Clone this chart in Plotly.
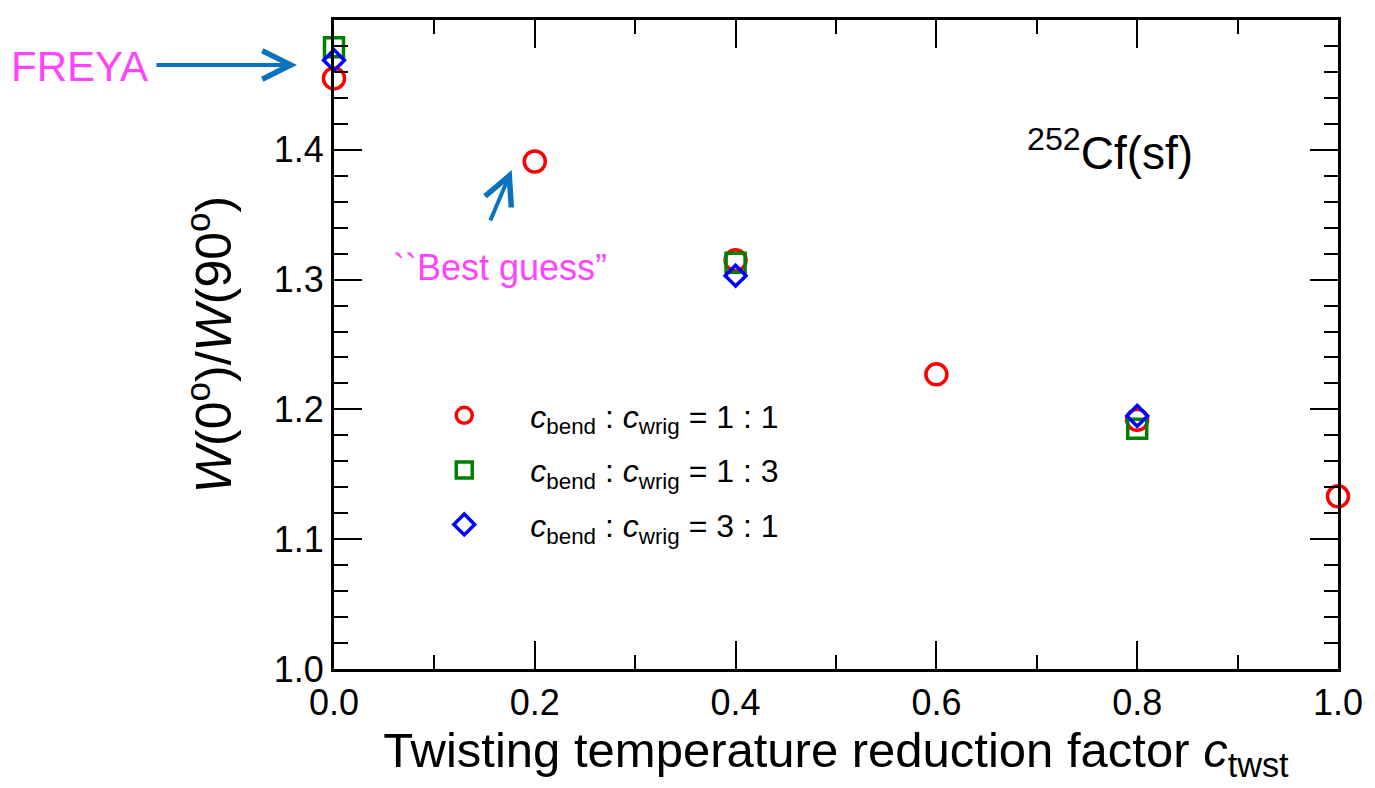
import plotly.graph_objects as go

# Angular anisotropy W(0°)/W(90°) versus twisting temperature reduction factor
x_11 = [0.0, 0.2, 0.4, 0.6, 0.8, 1.0]
y_11 = [1.455, 1.391, 1.315, 1.227, 1.192, 1.133]

x_13 = [0.0, 0.4, 0.8]
y_13 = [1.479, 1.313, 1.185]

x_31 = [0.0, 0.4, 0.8]
y_31 = [1.469, 1.303, 1.195]

names = [
    "<i>c</i><sub>bend</sub> : <i>c</i><sub>wrig</sub> = 1 : 1",
    "<i>c</i><sub>bend</sub> : <i>c</i><sub>wrig</sub> = 1 : 3",
    "<i>c</i><sub>bend</sub> : <i>c</i><sub>wrig</sub> = 3 : 1",
]

FONT = "Liberation Sans, Arial, Helvetica, sans-serif"
MAGENTA = "#FF44FF"
ARROW = "#0A72BE"

fig = go.Figure()
fig.add_trace(go.Scatter(x=x_11, y=y_11, mode="markers", name=names[0], legendgroup="a",
                         marker=dict(symbol="circle-open", size=21, color="#FF0000",
                                     line=dict(width=3.5)), cliponaxis=False))
fig.add_trace(go.Scatter(x=x_13, y=y_13, mode="markers", name=names[1], legendgroup="b",
                         marker=dict(symbol="square-open", size=19, color="#008000",
                                     line=dict(width=3.5)), cliponaxis=False))
fig.add_trace(go.Scatter(x=x_31, y=y_31, mode="markers", name=names[2], legendgroup="c",
                         marker=dict(symbol="diamond-open", size=16, color="#0000FF",
                                     line=dict(width=3.5)), cliponaxis=False))

axis_common = dict(
    showline=True, linecolor="black", linewidth=3, mirror="ticks",
    ticks="inside", tickcolor="black", tickwidth=2, ticklen=28,
    showgrid=False, zeroline=False,
    tickfont=dict(family=FONT, size=36, color="black"),
)

fig.update_xaxes(range=[0, 1], tick0=0, dtick=0.2, tickformat=".1f",
                 minor=dict(ticks="inside", dtick=0.1, ticklen=14, tickwidth=2,
                            tickcolor="black", showgrid=False),
                 title=dict(text="Twisting temperature reduction factor <i>c</i><sub>twst</sub>",
                            font=dict(family=FONT, size=49, color="black"), standoff=4),
                 **axis_common)
fig.update_yaxes(range=[1.0, 1.5], tick0=1.0, dtick=0.1, tickformat=".1f",
                 minor=dict(ticks="inside", dtick=0.02, ticklen=14, tickwidth=2,
                            tickcolor="black", showgrid=False),
                 title=dict(text="<i>W</i>(0<sup>o</sup>)/<i>W</i>(90<sup>o</sup>)",
                            font=dict(family=FONT, size=50, color="black"), standoff=27),
                 **axis_common)

fig.update_layout(
    width=1375, height=788,
    margin=dict(l=334, r=37, t=20, b=119),
    paper_bgcolor="white", plot_bgcolor="white",
    font=dict(family=FONT, color="black"),
    legend=dict(x=0.064, y=0.433, xanchor="left", yanchor="top",
                bgcolor="rgba(0,0,0,0)", itemwidth=122,
                font=dict(family=FONT, size=32, color="black"),
                tracegroupgap=10),
    annotations=[
        dict(x=0.773, y=0.80, xref="paper", yref="paper", xanchor="center", yanchor="middle",
             text="<sup>252</sup>Cf(sf)", showarrow=False,
             font=dict(family=FONT, size=46, color="black")),
        dict(x=-0.253, y=0.928, xref="paper", yref="paper", xanchor="center", yanchor="middle",
             text="FREYA", showarrow=False,
             font=dict(family=FONT, size=42, color=MAGENTA)),
        dict(x=-0.0369, y=0.9307, xref="paper", yref="paper", ax=-142, ay=0,
             text="", showarrow=True, arrowhead=5, arrowsize=1.4, arrowwidth=4,
             arrowcolor=ARROW, standoff=0, startstandoff=0),
        dict(x=0.165, y=1.309, xref="x", yref="y", xanchor="center", yanchor="middle",
             text="``Best guess\u201d", showarrow=False,
             font=dict(family=FONT, size=36, color=MAGENTA)),
        dict(x=0.177, y=1.3845, xref="x", yref="y", ax=-22, ay=52,
             text="", showarrow=True, arrowhead=5, arrowsize=1.4, arrowwidth=4,
             arrowcolor=ARROW, standoff=0, startstandoff=0),
    ],
)

fig.write_html("out.html")
